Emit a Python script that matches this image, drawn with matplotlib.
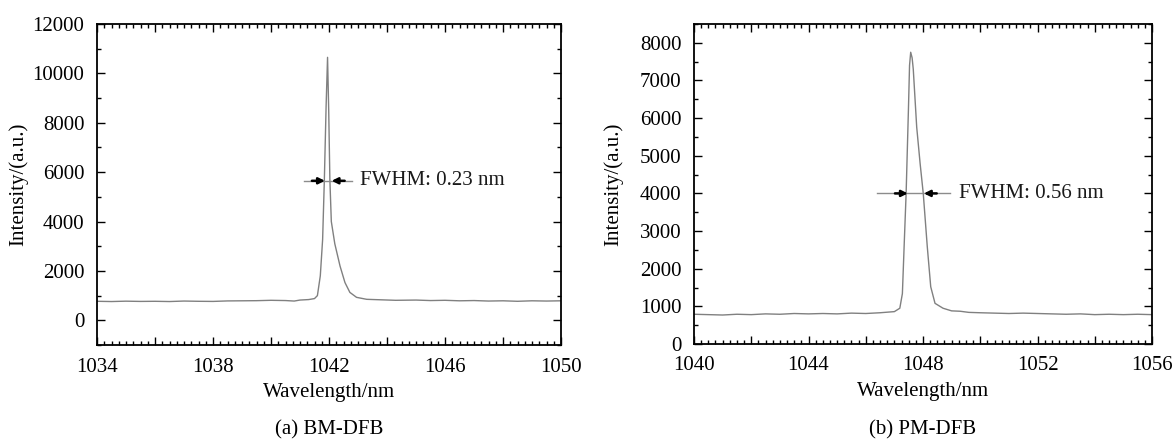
import matplotlib
matplotlib.use("Agg")
import matplotlib.pyplot as plt
from matplotlib.ticker import MultipleLocator, FuncFormatter

plt.rcParams['font.family'] = ['Liberation Serif', 'DejaVu Serif']

# ---- data: (a) BM-DFB ----
wl_a = [1034.0, 1034.5, 1035.0, 1035.5, 1036.0, 1036.5, 1037.0, 1037.5, 1038.0,
        1038.5, 1039.0, 1039.5, 1040.0, 1040.5, 1040.8, 1041.0, 1041.3, 1041.5,
        1041.6, 1041.7, 1041.78, 1041.84, 1041.9, 1041.95, 1041.99, 1042.03,
        1042.08, 1042.2, 1042.38, 1042.55, 1042.72, 1042.95, 1043.3, 1043.8,
        1044.3, 1045.0, 1045.5, 1046.0, 1046.5, 1047.0, 1047.5, 1048.0, 1048.5,
        1049.0, 1049.5, 1050.0]
int_a = [770, 760, 775, 765, 770, 760, 780, 770, 765,
         785, 790, 795, 810, 800, 780, 820, 840, 880,
         1000, 1800, 3270, 5700, 8660, 10650, 8500, 5700,
         4000, 3100, 2200, 1530, 1130, 930, 850, 830,
         810, 820, 800, 810, 790, 800, 780, 790, 770,
         790, 780, 790]

# ---- data: (b) PM-DFB ----
wl_b = [1040.0, 1040.5, 1041.0, 1041.5, 1042.0, 1042.5, 1043.0, 1043.5, 1044.0,
        1044.5, 1045.0, 1045.5, 1046.0, 1046.5, 1047.0, 1047.19, 1047.28, 1047.34,
        1047.41, 1047.49, 1047.53, 1047.57, 1047.62, 1047.66, 1047.78, 1047.9,
        1048.01, 1048.15, 1048.27, 1048.42, 1048.7, 1049.0, 1049.3, 1049.6,
        1050.0, 1050.5, 1051.0, 1051.5, 1052.0, 1052.5, 1053.0, 1053.5, 1054.0,
        1054.5, 1055.0, 1055.5, 1056.0]
int_b = [790, 780, 770, 790, 780, 800, 790, 810, 800,
         810, 800, 820, 810, 830, 860, 950, 1340, 2580,
         3990, 6200, 7400, 7750, 7600, 7300, 5760, 4790,
         3990, 2580, 1520, 1080, 950, 880, 870, 840,
         830, 820, 810, 820, 810, 800, 790, 800, 780,
         790, 780, 790, 780]

# FWHM annotations: (line start, line end, left tip, right tip, level, text x, text)
fwhm_a = (1041.14, 1042.78, 1041.86, 1042.09, 5650, 1043.07, "FWHM: 0.23 nm")
fwhm_b = (1046.38, 1048.95, 1047.47, 1048.03, 4000, 1049.27, "FWHM: 0.56 nm")

xlim_a, ylim_a = (1034, 1050), (-1000, 12000)
xlim_b, ylim_b = (1040, 1056), (0, 8500)
xticks_a = [1034, 1038, 1042, 1046, 1050]
xticks_b = [1040, 1044, 1048, 1052, 1056]
ystep_a, ystep_b = 2000, 1000
captions = ["(a) BM-DFB", "(b) PM-DFB"]

W, H = 1174, 441
fig = plt.figure(figsize=(W / 100, H / 100), dpi=100)
ax_a = fig.add_axes([97 / W, (H - 345) / H, 464 / W, 321 / H])
ax_b = fig.add_axes([694 / W, (H - 344) / H, 458 / W, 320 / H])

FS = 15

def style(ax, xlim, ylim, xticks, ystep, ylabelpad):
    ax.set_xlim(*xlim)
    ax.set_ylim(*ylim)
    ax.xaxis.set_major_locator(MultipleLocator(2))
    ax.xaxis.set_minor_locator(MultipleLocator(0.25))
    ax.xaxis.set_major_formatter(FuncFormatter(
        lambda v, p: f"{int(round(v))}" if int(round(v)) in xticks else ""))
    ax.yaxis.set_major_locator(MultipleLocator(ystep))
    ax.yaxis.set_minor_locator(MultipleLocator(ystep / 2))
    ax.tick_params(which='both', direction='in', top=True, right=True,
                   labelsize=FS, colors='black', width=1.0)
    ax.tick_params(which='major', length=6)
    ax.tick_params(which='minor', length=3)
    ax.tick_params(axis='x', which='major', pad=9)
    ax.tick_params(axis='y', which='major', pad=9)
    for s in ax.spines.values():
        s.set_linewidth(1.3)
    ax.set_xlabel("Wavelength/nm", fontsize=FS, labelpad=5)
    ax.set_ylabel("Intensity/(a.u.)", fontsize=FS, labelpad=ylabelpad)

def fwhm(ax, spec):
    x0, x1, tl, tr, lvl, tx, txt = spec
    ax.plot([x0, x1], [lvl, lvl], color='#8c8c8c', lw=1.0, zorder=3)
    w = 0.45
    ax.annotate("", xy=(tl, lvl), xytext=(tl - w, lvl),
                arrowprops=dict(arrowstyle='-|>', color='black', lw=1.8,
                                mutation_scale=9, shrinkA=0, shrinkB=0), zorder=4)
    ax.annotate("", xy=(tr, lvl), xytext=(tr + w, lvl),
                arrowprops=dict(arrowstyle='-|>', color='black', lw=1.8,
                                mutation_scale=9, shrinkA=0, shrinkB=0), zorder=4)
    ax.text(tx, lvl, txt, fontsize=FS, va='center', ha='left', color='#1a1a1a')

ax_a.plot(wl_a, int_a, color='#808080', lw=1.0)
style(ax_a, xlim_a, ylim_a, xticks_a, ystep_a, 3)
fwhm(ax_a, fwhm_a)

ax_b.plot(wl_b, int_b, color='#808080', lw=1.0)
style(ax_b, xlim_b, ylim_b, xticks_b, ystep_b, 12)
fwhm(ax_b, fwhm_b)

fig.text(329 / W, 1 - 430 / H, captions[0], ha='center', va='center', fontsize=FS)
fig.text(923 / W, 1 - 430 / H, captions[1], ha='center', va='center', fontsize=FS)

fig.savefig("out.png", dpi=100)
